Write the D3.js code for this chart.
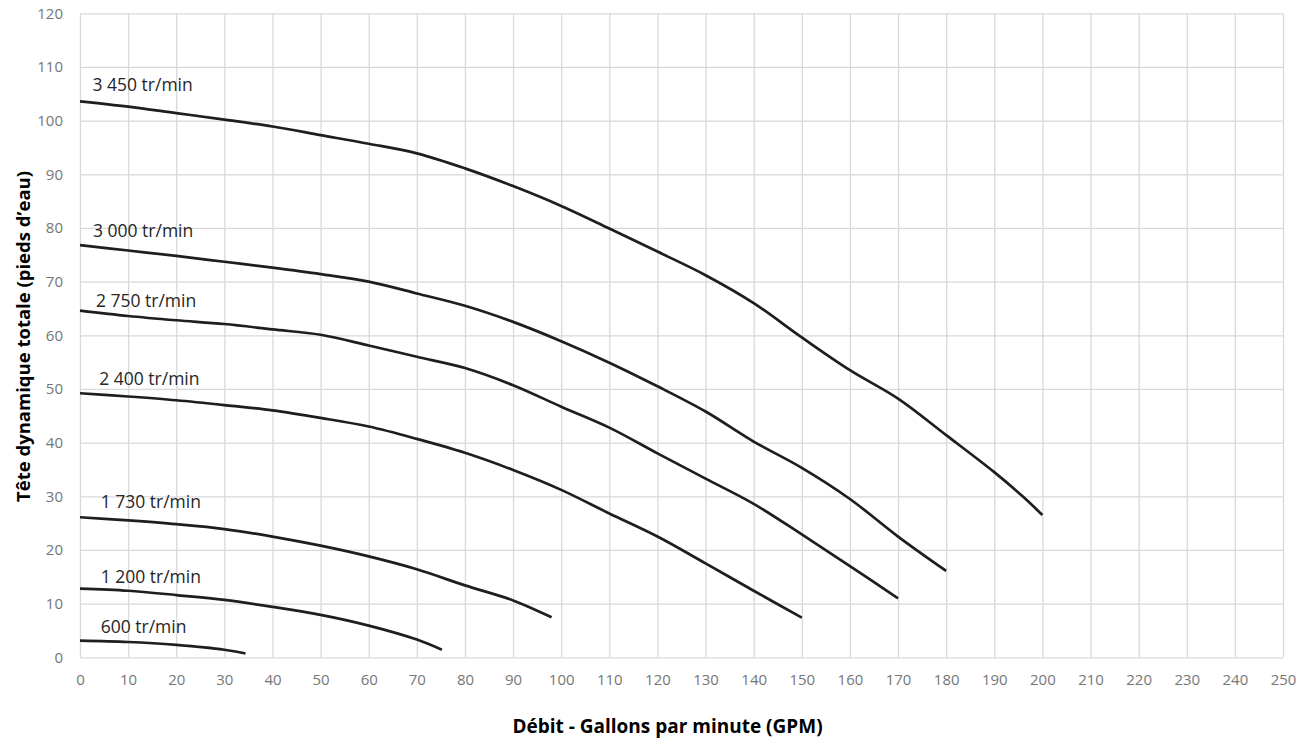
<!DOCTYPE html>
<html>
<head>
<meta charset="utf-8">
<script src="https://cdn.jsdelivr.net/npm/d3@7"></script>
<style>
  html, body { margin: 0; padding: 0; background: #ffffff; }
  svg { display: block; }
</style>
</head>
<body>
<svg id="chart" width="1316" height="744"></svg>
<script>
// ---------------- DATA ----------------
const xTicks = [0,10,20,30,40,50,60,70,80,90,100,110,120,130,140,150,160,170,180,190,200,210,220,230,240,250];
const yTicks = [0,10,20,30,40,50,60,70,80,90,100,110,120];

const seriesNames = ["3 450 tr/min", "3 000 tr/min", "2 750 tr/min", "2 400 tr/min", "1 730 tr/min", "1 200 tr/min", "600 tr/min"];

const flow3450 = [0,10,20,30,40,50,60,70,80,90,100,110,120,130,140,150,160,170,180,190,196,200];
const head3450 = [103.6,102.6,101.4,100.2,98.9,97.3,95.7,93.9,91.1,87.8,84.1,79.9,75.6,71.2,66.0,59.6,53.5,48.2,41.4,34.5,29.9,26.5];

const flow3000 = [0,10,20,30,40,50,60,70,80,90,100,110,120,130,140,150,160,170,180];
const head3000 = [76.8,75.8,74.8,73.7,72.6,71.4,70.0,67.8,65.5,62.5,58.9,54.9,50.5,45.8,40.2,35.3,29.5,22.5,16.1];

const flow2750 = [0,10,20,30,40,50,60,70,80,90,100,110,120,130,140,150,160,170];
const head2750 = [64.6,63.6,62.8,62.1,61.1,60.1,58.1,56.0,53.9,50.7,46.7,42.8,38.0,33.3,28.6,22.9,17.0,11.0];

const flow2400 = [0,10,20,30,40,50,60,70,80,90,100,110,120,130,140,150];
const head2400 = [49.2,48.6,47.9,47.0,46.0,44.6,43.0,40.7,38.1,34.9,31.2,26.8,22.5,17.5,12.4,7.4];

const flow1730 = [0,10,20,30,40,50,60,70,80,90,98];
const head1730 = [26.1,25.5,24.8,23.9,22.5,20.8,18.8,16.4,13.4,10.6,7.45];

const flow1200 = [0,10,20,30,40,50,60,70,75.2];
const head1200 = [12.8,12.4,11.6,10.7,9.4,7.9,5.9,3.3,1.4];

const flow600 = [0,10,20,30,34.4];
const head600 = [3.1,2.85,2.3,1.4,0.7];

// label anchor points (data units: flow, head)
const labelFlow = [2.6, 2.7, 3.3, 4.0, 4.3, 4.3, 4.3];
const labelHead = [105.6, 78.3, 65.2, 50.7, 27.9, 13.9, 4.5];

const xTitle = "Débit - Gallons par minute (GPM)";
const yTitle = "Tête dynamique totale (pieds d’eau)";

// ---------------- BUILD ----------------
(function () {
const flows = [flow3450, flow3000, flow2750, flow2400, flow1730, flow1200, flow600];
const heads = [head3450, head3000, head2750, head2400, head1730, head1200, head600];
const series = seriesNames.map((name, i) => ({
  name,
  points: flows[i].map((f, j) => [f, heads[i][j]]),
  label: [labelFlow[i], labelHead[i]]
}));

const svg = d3.select("#chart");
const pLeft = 80, pRight = 1283, pTop = 13.3, pBottom = 657.3;

const x = d3.scaleLinear().domain([0, 250]).range([pLeft, pRight]);
const y = d3.scaleLinear().domain([0, 120]).range([pBottom, pTop]);

const gridColor = "#d9d9d9";
const tickColor = "#767676";
const font = "'Open Sans', 'Liberation Sans', sans-serif";

// vertical gridlines
svg.append("g")
  .attr("transform", `translate(0,${pBottom})`)
  .call(d3.axisBottom(x).tickValues(xTicks).tickSize(-(pBottom - pTop)).tickFormat(d => d).tickPadding(17))
  .call(g => g.select(".domain").remove())
  .call(g => g.selectAll(".tick line").attr("stroke", gridColor).attr("stroke-width", 1.3))
  .call(g => g.selectAll(".tick text").attr("fill", tickColor).attr("font-size", "15px").attr("font-family", font));

// horizontal gridlines
svg.append("g")
  .attr("transform", `translate(${pLeft},0)`)
  .call(d3.axisLeft(y).tickValues(yTicks).tickSize(-(pRight - pLeft)).tickFormat(d => d).tickPadding(17))
  .call(g => g.select(".domain").remove())
  .call(g => g.selectAll(".tick line").attr("stroke", gridColor).attr("stroke-width", 1.3))
  .call(g => g.selectAll(".tick text").attr("fill", tickColor).attr("font-size", "15px").attr("font-family", font));

// curves
const line = d3.line()
  .x(d => x(d[0]))
  .y(d => y(d[1]))
  .curve(d3.curveCatmullRom.alpha(0.5));

svg.append("g").selectAll("path")
  .data(series)
  .join("path")
  .attr("d", d => line(d.points))
  .attr("fill", "none")
  .attr("stroke", "#1e1e1e")
  .attr("stroke-width", 2.7)
  .attr("stroke-linejoin", "round");

// curve labels
svg.append("g").selectAll("text")
  .data(series)
  .join("text")
  .attr("x", d => x(d.label[0]))
  .attr("y", d => y(d.label[1]))
  .attr("font-family", font)
  .attr("font-size", "17.5px")
  .attr("fill", "#262626")
  .text(d => d.name);

// axis titles
svg.append("text")
  .attr("x", (510 + 825) / 2)
  .attr("y", 732.7)
  .attr("text-anchor", "middle")
  .attr("font-family", font)
  .attr("font-weight", "bold")
  .attr("font-size", "19px")
  .attr("fill", "#000")
  .text(xTitle);

svg.append("text")
  .attr("transform", `translate(30,${(173 + 500) / 2}) rotate(-90)`)
  .attr("text-anchor", "middle")
  .attr("font-family", font)
  .attr("font-weight", "bold")
  .attr("font-size", "18.5px")
  .attr("fill", "#000")
  .text(yTitle);
})();
</script>
</body>
</html>
